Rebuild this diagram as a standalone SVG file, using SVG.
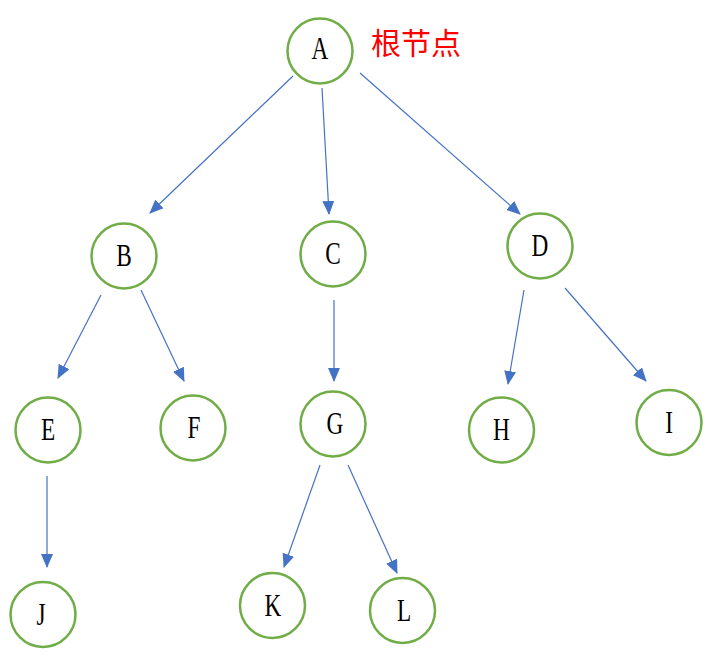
<svg xmlns="http://www.w3.org/2000/svg" width="708" height="655" viewBox="0 0 708 655">
<style>
.node circle{fill:#fff;stroke:#70AD47;stroke-width:2.5}
.node text{font-family:"Liberation Serif","DejaVu Serif",serif;font-size:31px;fill:#000;text-anchor:middle;dominant-baseline:central}
.edge line{stroke:#4472C4;stroke-width:1.2;marker-end:url(#arr)}
.label{font-family:"Noto Sans CJK SC","Noto Sans CJK JP",sans-serif;font-size:30px;fill:#FF0000}
</style>
<defs>
<marker id="arr" markerUnits="userSpaceOnUse" markerWidth="14" markerHeight="12" refX="13" refY="6" orient="auto" viewBox="0 0 14 12">
<path d="M0,0 L14,6 L0,12 z" fill="#4472C4"/>
</marker>
</defs>
<rect width="708" height="655" fill="#fff"/>
<g id="connectors" class="edge">
<line x1="293" y1="76" x2="150" y2="213"/>
<line x1="322" y1="88" x2="329" y2="214"/>
<line x1="360" y1="73" x2="520" y2="214"/>
<line x1="101" y1="295" x2="58" y2="378"/>
<line x1="141" y1="290" x2="184" y2="381"/>
<line x1="334" y1="300" x2="334" y2="381"/>
<line x1="524" y1="290" x2="508" y2="384"/>
<line x1="565" y1="288" x2="646" y2="381"/>
<line x1="47" y1="476" x2="47" y2="567"/>
<line x1="320" y1="465" x2="284" y2="567"/>
<line x1="348" y1="465" x2="397" y2="573"/>
</g>
<g id="node-A" class="node"><circle cx="320" cy="51" r="32.5"/><text transform="translate(320,49) scale(0.75,1)">A</text></g>
<text class="label" x="371" y="54">根节点</text>
<g id="node-B" class="node"><circle cx="124" cy="256" r="32.5"/><text transform="translate(124,256) scale(0.75,1)">B</text></g>
<g id="node-C" class="node"><circle cx="333" cy="254" r="32.5"/><text transform="translate(333,254) scale(0.75,1)">C</text></g>
<g id="node-D" class="node"><circle cx="540" cy="246" r="32.5"/><text transform="translate(540,246) scale(0.75,1)">D</text></g>
<g id="node-E" class="node"><circle cx="48" cy="430" r="32.5"/><text transform="translate(48,430) scale(0.75,1)">E</text></g>
<g id="node-F" class="node"><circle cx="193" cy="428" r="32.5"/><text transform="translate(194,428) scale(0.75,1)">F</text></g>
<g id="node-G" class="node"><circle cx="333" cy="424" r="32.5"/><text transform="translate(335,424) scale(0.75,1)">G</text></g>
<g id="node-H" class="node"><circle cx="501.5" cy="430" r="32.5"/><text transform="translate(501.5,430) scale(0.75,1)">H</text></g>
<g id="node-I" class="node"><circle cx="669" cy="422.5" r="32.5"/><text transform="translate(669,422.5) scale(0.75,1)">I</text></g>
<g id="node-J" class="node"><circle cx="43" cy="614.5" r="32.5"/><text transform="translate(41,614.5) scale(0.75,1)">J</text></g>
<g id="node-K" class="node"><circle cx="272.5" cy="605.5" r="32.5"/><text transform="translate(273,605.5) scale(0.75,1)">K</text></g>
<g id="node-L" class="node"><circle cx="402.5" cy="610.5" r="32.5"/><text transform="translate(404,610.5) scale(0.75,1)">L</text></g>
</svg>
